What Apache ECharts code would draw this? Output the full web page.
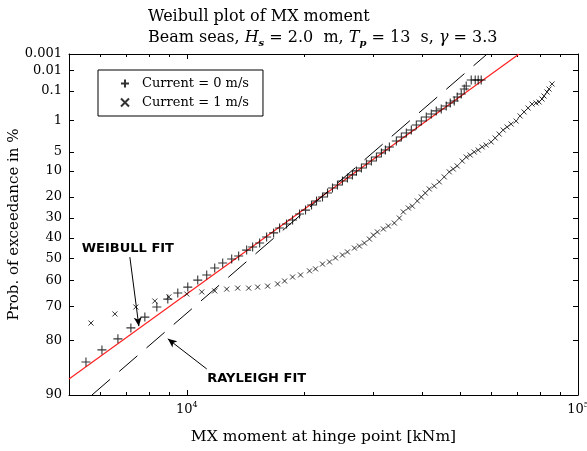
<!DOCTYPE html>
<html>
<head>
<meta charset="utf-8">
<script src="https://cdn.jsdelivr.net/npm/echarts@6/dist/echarts.min.js"></script>
<style>
html,body{margin:0;padding:0;background:#fff;}
#chart{width:587px;height:451px;}
</style>
</head>
<body>
<div id="chart"></div>
<script>
// ---- data (x in kNm, probability of exceedance in %) ----
const xMin = 5000, xMax = 100000;
const qMin = 0.001, qMax = 90;
const yTickLabels = ['0.001','0.01','0.1','1','5','10','20','30','40','50','60','70','80','90'];
const xMajorTicks = [10000, 100000];
const xMinorTicks = [6000,7000,8000,9000,20000,30000,40000,50000,60000,70000,80000,90000];

const current0X = [5525,6070,6668,7197,7814,8384,8944,9485,10059,10667,11246,11788,12355,13026,13572,14226,14736,15354,15999,16671,17268,17993,18639,19421,20117,20840,21462,22231,22894,23574,24278,25000,25746,26514,27144,27954,28787,29643,30528,31439,32184,32952,34334,35355,36410,37496,38615,39763,40948,42170,43425,44720,46054,47148,48269,49127,50294,51189,51796,53342,54609,55580,56566];
const current0Q = [84.7,82.2,79.6,76.7,73.5,70.2,67.4,65.1,62.8,59.9,57.7,54.6,52.3,50.4,49.0,46.1,44.6,42.6,39.6,37.5,35.0,33.0,31.0,28.0,26.1,23.7,21.8,20.0,18.3,16.2,15.0,13.5,12.4,11.3,10.0,9.1,7.95,7.14,6.15,5.25,4.64,4.07,3.09,2.54,2.06,1.75,1.31,1.03,0.79,0.65,0.52,0.45,0.36,0.284,0.241,0.171,0.131,0.082,0.060,0.032,0.032,0.032,0.032];

const current1X = [5690,6551,7411,8286,8997,10000,10921,11788,12649,13493,14393,15175,16093,17066,17783,18639,19536,20595,21335,22231,23164,23994,25000,25746,26828,27627,28450,29300,29995,30708,31809,32756,33930,34942,35773,36842,37718,38840,39763,40708,41676,42920,44200,45515,46873,47987,49127,50593,51796,53023,54284,55580,56895,58250,59985,61417,62876,64370,65899,67465,69474,71125,72813,74544,76316,78130,79524,80936,81889,83343,84330,85830];
const current1Q = [75.3,72.5,70.2,68.1,66.6,65.5,64.7,64.3,63.6,63.2,63.2,62.8,62.4,61.5,60.3,58.6,57.7,55.9,55.0,52.8,51.8,49.9,48.5,47.0,45.1,44.1,42.6,40.6,38.6,37.0,35.5,34.0,32.5,30.0,27.0,25.1,24.2,21.8,20.0,18.3,16.6,15.4,13.8,12.0,10.3,9.4,8.5,7.14,6.15,5.69,5.04,4.64,4.07,3.73,3.24,2.67,2.18,1.75,1.48,1.24,1.03,0.74,0.56,0.42,0.31,0.284,0.261,0.204,0.157,0.109,0.082,0.049];

const weibullFitX = [5000, 70710];
const weibullFitQ = [87.7, 0.001];
const rayleighFitX = [5723, 58590];
const rayleighFitQ = [90, 0.001];

const seriesNames = ['Current = 0 m/s', 'Current = 1 m/s'];

// annotation anchors (data units)
const weibullLabel = {text: 'WEIBULL FIT', x: 7071, q: 45.6};
const weibullArrow = {fromX: 7154, fromQ: 49.5, toX: 7543, toQ: 76.2};
const rayleighLabel = {text: 'RAYLEIGH FIT', x: 15086, q: 87.7};
const rayleighArrow = {fromX: 11246, fromQ: 86.0, toX: 8944, toQ: 79.6};

// ---- Weibull-paper transforms ----
const tx = x => Math.log10(x);
const ty = q => Math.log(-Math.log(q / 100));
const pts = (xs, qs) => xs.map((x, i) => [tx(x), ty(qs[i])]);

const serif = 'DejaVu Serif';
const plusPath = 'path://M0,5L10,5M5,0L5,10';
const crossPath = 'path://M0,0L10,10M0,10L10,0';

const yTickVals = yTickLabels.map(s => ty(parseFloat(s)));
const yLabelFor = v => {
  let best = 0, bd = Infinity;
  yTickVals.forEach((t, i) => { const d = Math.abs(t - v); if (d < bd) { bd = d; best = i; } });
  return yTickLabels[best];
};

const xBase = {
  type: 'value', gridIndex: 0, min: tx(xMin), max: tx(xMax),
  splitLine: {show: false},
  axisLine: {onZero: false, lineStyle: {color: '#000', width: 1}}
};
const yBase = {
  type: 'value', gridIndex: 0, min: ty(qMax), max: ty(qMin),
  splitLine: {show: false},
  axisLine: {onZero: false, lineStyle: {color: '#000', width: 1}}
};

const chart = echarts.init(document.getElementById('chart'), null, {renderer: 'canvas'});
chart.setOption({
  animation: false,
  backgroundColor: '#fff',
  title: {
    left: 143, top: 1,
    text: 'Weibull plot of MX moment\nBeam seas, {i|H}{s|s} = 2.0  m, {i|T}{s|p} = 13  s, {i|γ} = 3.3',
    textStyle: {
      fontFamily: serif, fontSize: 16, fontWeight: 'normal', color: '#000', lineHeight: 21,
      rich: {
        i: {fontFamily: serif, fontStyle: 'italic', fontSize: 16, color: '#000', lineHeight: 21},
        s: {fontFamily: serif, fontStyle: 'italic', fontWeight: 'bold', fontSize: 10, color: '#000', verticalAlign: 'bottom', lineHeight: 21}
      }
    }
  },
  legend: {
    data: seriesNames,
    orient: 'vertical', left: 98, top: 70,
    borderColor: '#000', borderWidth: 1, borderRadius: 0,
    padding: [7, 14, 7, 22], itemGap: 6, itemWidth: 8, itemHeight: 8,
    backgroundColor: '#fff',
    textStyle: {fontFamily: serif, fontSize: 13, color: '#000', padding: [0, 0, 0, 8]}
  },
  grid: {left: 69, right: 9, top: 54, bottom: 56, containLabel: false, outerBoundsMode: 'none'},
  xAxis: [
    Object.assign({}, xBase, {
      position: 'bottom',
      name: 'MX moment at hinge point [kNm]', nameLocation: 'middle', nameGap: 34,
      nameTextStyle: {fontFamily: serif, fontSize: 15.5, color: '#000'},
      axisTick: {inside: true, length: 5, lineStyle: {color: '#000'}, customValues: xMajorTicks.map(tx)},
      axisLabel: {
        customValues: xMajorTicks.map(tx), margin: 6,
        formatter: v => '{b|10}{p|' + Math.round(v) + '}',
        rich: {
          b: {fontFamily: serif, fontSize: 13, color: '#000', lineHeight: 18},
          p: {fontFamily: serif, fontSize: 8, color: '#000', verticalAlign: 'top', lineHeight: 18}
        }
      }
    }),
    Object.assign({}, xBase, {
      position: 'bottom', axisLine: {show: false, onZero: false},
      axisTick: {inside: true, length: 3, lineStyle: {color: '#000'}, customValues: xMinorTicks.map(tx)},
      axisLabel: {show: false}
    }),
    Object.assign({}, xBase, {
      position: 'top',
      axisTick: {inside: true, length: 5, lineStyle: {color: '#000'}, customValues: xMajorTicks.map(tx)},
      axisLabel: {show: false}
    }),
    Object.assign({}, xBase, {
      position: 'top', axisLine: {show: false, onZero: false},
      axisTick: {inside: true, length: 3, lineStyle: {color: '#000'}, customValues: xMinorTicks.map(tx)},
      axisLabel: {show: false}
    })
  ],
  yAxis: [
    Object.assign({}, yBase, {
      position: 'left',
      name: 'Prob. of exceedance in %', nameLocation: 'middle', nameGap: 47, nameMoveOverlap: false,
      nameTextStyle: {fontFamily: serif, fontSize: 15, color: '#000'},
      axisTick: {inside: true, length: 5, lineStyle: {color: '#000'}, customValues: yTickVals},
      axisLabel: {customValues: yTickVals, margin: 7, formatter: v => yLabelFor(v),
        fontFamily: serif, fontSize: 13, color: '#000'}
    }),
    Object.assign({}, yBase, {
      position: 'right',
      axisTick: {inside: true, length: 5, lineStyle: {color: '#000'}, customValues: yTickVals},
      axisLabel: {show: false}
    })
  ],
  series: [
    {
      name: 'Weibull fit', type: 'line', xAxisIndex: 0, yAxisIndex: 0,
      data: pts(weibullFitX, weibullFitQ), showSymbol: false, symbol: 'none',
      lineStyle: {color: '#ff2020', width: 1.2}, z: 2, silent: true,
      markLine: {
        silent: true, symbolSize: [6, 9], animation: false,
        lineStyle: {color: '#000', width: 1, type: 'solid'},
        label: {show: false},
        data: [
          [{coord: [tx(weibullArrow.fromX), ty(weibullArrow.fromQ)], symbol: 'none'},
           {coord: [tx(weibullArrow.toX), ty(weibullArrow.toQ)], symbol: 'arrow'}],
          [{coord: [tx(rayleighArrow.fromX), ty(rayleighArrow.fromQ)], symbol: 'none'},
           {coord: [tx(rayleighArrow.toX), ty(rayleighArrow.toQ)], symbol: 'arrow'}]
        ]
      },
      markPoint: {
        silent: true, symbol: 'rect', symbolSize: 1, animation: false,
        itemStyle: {color: 'rgba(0,0,0,0)'},
        label: {show: true, position: 'inside', formatter: '{b}',
          fontFamily: 'DejaVu Sans', fontWeight: 'bold', fontSize: 13, color: '#000'},
        data: [
          {name: weibullLabel.text, coord: [tx(weibullLabel.x), ty(weibullLabel.q)]},
          {name: rayleighLabel.text, coord: [tx(rayleighLabel.x), ty(rayleighLabel.q)]}
        ]
      }
    },
    {
      name: 'Rayleigh fit', type: 'line', xAxisIndex: 0, yAxisIndex: 0,
      data: pts(rayleighFitX, rayleighFitQ), showSymbol: false, symbol: 'none',
      lineStyle: {color: '#000', width: 1, type: [24, 12]}, z: 2, silent: true
    },
    {
      name: seriesNames[0], type: 'scatter', xAxisIndex: 0, yAxisIndex: 0,
      data: pts(current0X, current0Q), symbol: plusPath, symbolSize: 9,
      itemStyle: {color: '#000', borderColor: '#000', borderWidth: 1.1}, z: 3
    },
    {
      name: seriesNames[1], type: 'scatter', xAxisIndex: 0, yAxisIndex: 0,
      data: pts(current1X, current1Q), symbol: crossPath, symbolSize: 5,
      itemStyle: {color: '#000', borderColor: '#000', borderWidth: 1}, z: 3
    }
  ]
});
</script>
</body>
</html>
